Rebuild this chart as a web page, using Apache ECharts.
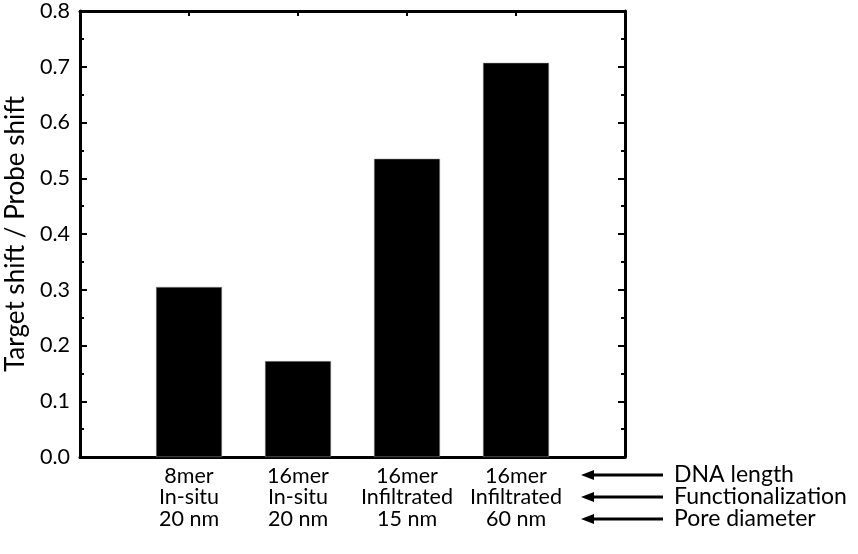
<!DOCTYPE html>
<html>
<head>
<meta charset="utf-8">
<script src="https://cdn.jsdelivr.net/npm/echarts@6/dist/echarts.min.js"></script>
<style>html,body{margin:0;padding:0;background:#fff;}#c{width:858px;height:554px;}</style>
</head>
<body>
<div id="c"></div>
<script>
var dnaLength = ['8mer', '16mer', '16mer', '16mer'];
var functionalization = ['In-situ', 'In-situ', 'Infiltrated', 'Infiltrated'];
var poreDiameter = ['20 nm', '20 nm', '15 nm', '60 nm'];
var ratioValues = [0.305, 0.172, 0.535, 0.707];
var rowNames = ['DNA length', 'Functionalization', 'Pore diameter'];
var yTicks = [0, 0.1, 0.2, 0.3, 0.4, 0.5, 0.6, 0.7, 0.8];

var FONT = 'Lato';
var chart = echarts.init(document.getElementById('c'), null, {renderer: 'canvas'});
var barData = ratioValues.map(function (v, i) { return [i + 1, v]; });

var axisLineStyle = {show: true, onZero: false, lineStyle: {color: '#000', width: 3}};

var graphics = [];
var rowY = [475, 497, 519];
rowNames.forEach(function (name, i) {
  var y = rowY[i];
  graphics.push({type: 'line', shape: {x1: 590, y1: y, x2: 663, y2: y}, style: {stroke: '#000', lineWidth: 3}});
  graphics.push({type: 'polygon', shape: {points: [[581, y], [594, y - 5], [594, y + 5]]}, style: {fill: '#000'}});
  graphics.push({type: 'text', x: 674, y: y, style: {text: name, font: '23px ' + FONT, fill: '#000', textVerticalAlign: 'middle', textAlign: 'left'}});
});

chart.setOption({
  animation: false,
  backgroundColor: '#fff',
  grid: {left: 80, right: 233, top: 11, bottom: 97, containLabel: false, outerBoundsMode: 'none'},
  xAxis: [
    {
      type: 'value', min: 0, max: 5, interval: 1, position: 'bottom',
      axisLine: axisLineStyle, splitLine: {show: false},
      axisTick: {show: false},
      axisLabel: {
        show: true, margin: 8, fontFamily: FONT, fontSize: 21.5, color: '#000', lineHeight: 21.5, align: 'center',
        formatter: function (v) {
          var i = Math.round(v) - 1;
          if (i < 0 || i >= dnaLength.length) return '';
          return dnaLength[i] + '\n' + functionalization[i] + '\n' + poreDiameter[i];
        }
      }
    },
    {
      type: 'value', min: 0, max: 5, interval: 1, position: 'top',
      axisLine: axisLineStyle, splitLine: {show: false},
      axisTick: {show: true, inside: true, length: 5, lineStyle: {color: '#000', width: 2}},
      axisLabel: {show: false}
    }
  ],
  yAxis: [
    {
      type: 'value', min: 0, max: 0.8, interval: 0.1, position: 'left',
      axisLine: axisLineStyle, splitLine: {show: false},
      name: 'Target shift / Probe shift', nameLocation: 'middle', nameGap: 46,
      nameTextStyle: {fontFamily: FONT, fontSize: 26, color: '#000'},
      axisTick: {show: true, inside: true, length: 7, lineStyle: {color: '#000', width: 2}},
      minorTick: {show: true, splitNumber: 2, length: 4, lineStyle: {color: '#000', width: 2}},
      axisLabel: {show: true, margin: 10, fontFamily: FONT, fontSize: 21.5, color: '#000',
        formatter: function (v) { return v.toFixed(1); }}
    },
    {
      type: 'value', min: 0, max: 0.8, interval: 0.1, position: 'right',
      axisLine: axisLineStyle, splitLine: {show: false},
      axisTick: {show: true, inside: true, length: 7, lineStyle: {color: '#000', width: 2}},
      minorTick: {show: true, splitNumber: 2, length: 4, lineStyle: {color: '#000', width: 2}},
      axisLabel: {show: false}
    }
  ],
  series: [{
    type: 'bar', xAxisIndex: 0, yAxisIndex: 0, data: barData, barWidth: 66,
    itemStyle: {color: '#000', borderColor: '#999', borderWidth: 0.5}, z: 1
  }],
  graphic: graphics
});
</script>
</body>
</html>
